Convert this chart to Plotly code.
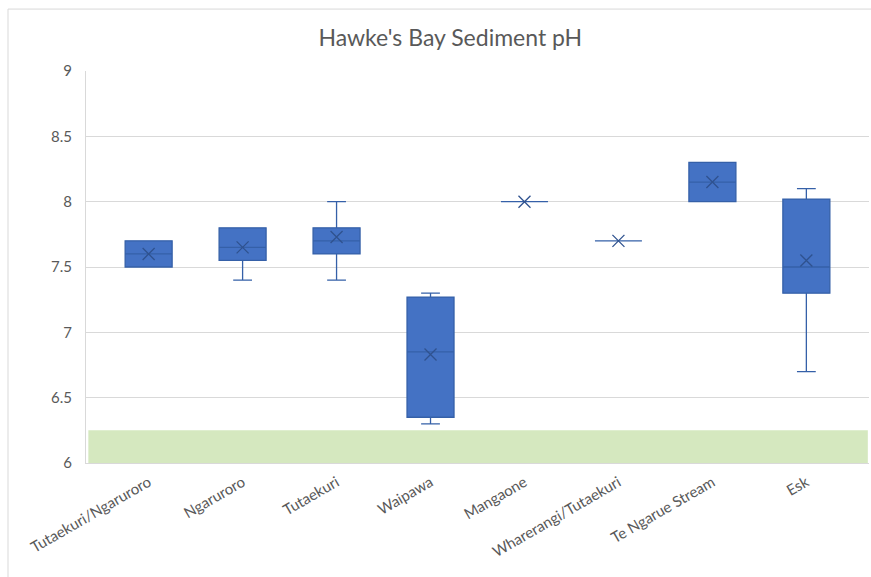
import plotly.graph_objects as go

categories = ["Tutaekuri/Ngaruroro", "Ngaruroro", "Tutaekuri", "Waipawa", "Mangaone",
              "Wharerangi/Tutaekuri", "Te Ngarue Stream", "Esk"]
lower = [7.5, 7.4, 7.4, 6.3, 8.0, 7.7, 8.0, 6.7]
q1 = [7.5, 7.55, 7.6, 6.35, 8.0, 7.7, 8.0, 7.3]
median = [7.6, 7.65, 7.7, 6.85, 8.0, 7.7, 8.15, 7.5]
q3 = [7.7, 7.8, 7.8, 7.27, 8.0, 7.7, 8.3, 8.02]
upper = [7.7, 7.8, 8.0, 7.3, 8.0, 7.7, 8.3, 8.1]
mean = [7.6, 7.65, 7.73, 6.83, 8.0, 7.7, 8.15, 7.55]
band_low, band_high = 6.0, 6.25
y_ticks = [6, 6.5, 7, 7.5, 8, 8.5, 9]

font_family = "Lato, 'Open Sans', sans-serif"
text_color = "#595959"

fig = go.Figure()
fig.add_trace(go.Box(
    x=categories, q1=q1, median=median, q3=q3,
    lowerfence=lower, upperfence=upper,
    fillcolor="#4472C4", line=dict(color="#3560A8", width=1.3),
    width=0.5, whiskerwidth=0.4, boxpoints=False, showlegend=False,
    hoverinfo="skip",
))
fig.add_trace(go.Scatter(
    x=categories, y=mean, mode="markers",
    marker=dict(symbol="x-thin-open", size=12, color="#2F528F",
                line=dict(color="#2F528F", width=1.3)),
    showlegend=False, hoverinfo="skip",
))

fig.add_shape(type="rect", xref="paper", yref="y", x0=0.003, x1=0.9985,
              y0=band_low, y1=band_high, fillcolor="#D5E8BF", line=dict(width=0),
              layer="below")
# chart area border (left and top)
fig.add_shape(type="line", xref="paper", yref="paper", x0=-0.0996, x1=-0.0996,
              y0=1.158, y1=-0.35, line=dict(color="#D9D9D9", width=1))
fig.add_shape(type="line", xref="paper", yref="paper", x0=-0.0996, x1=1.01,
              y0=1.158, y1=1.158, line=dict(color="#D9D9D9", width=1))

fig.update_layout(
    width=871, height=577,
    margin=dict(l=86, r=2, t=71, b=114),
    paper_bgcolor="white", plot_bgcolor="white",
    font=dict(family=font_family, color=text_color, size=14),
    title=dict(text="Hawke's Bay Sediment pH", x=0.517, xanchor="center",
               y=1 - 38 / 577, yanchor="middle",
               font=dict(size=23, color=text_color, family=font_family)),
    xaxis=dict(type="category", tickangle=-30, showgrid=False,
               showline=True, linecolor="#D9D9D9", ticks="",
               ticklabelstandoff=4,
               tickfont=dict(size=15, color=text_color)),
    yaxis=dict(range=[6, 9], tickvals=y_ticks, ticktext=[f"{v:g}" for v in y_ticks],
               showgrid=True, gridcolor="#D9D9D9", gridwidth=1,
               showline=True, linecolor="#D9D9D9", zeroline=False,
               ticks="", ticklabelstandoff=10,
               tickfont=dict(size=15, color=text_color)),
)

fig.write_html("out.html")
